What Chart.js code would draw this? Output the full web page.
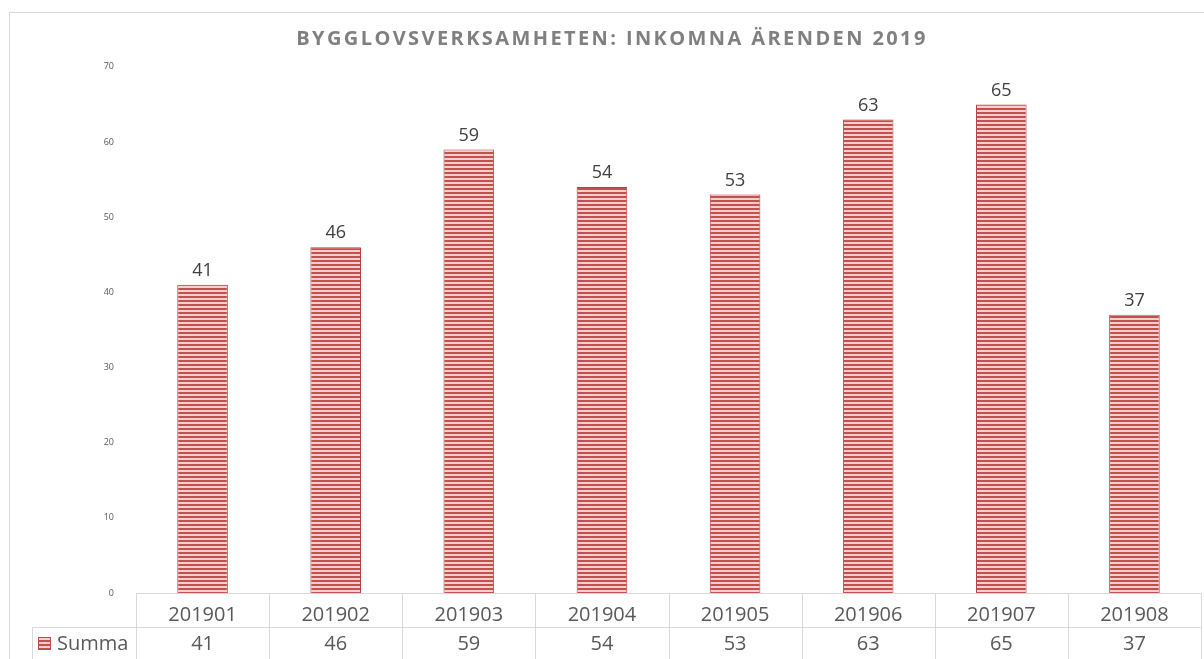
<!DOCTYPE html>
<html>
<head>
<meta charset="utf-8">
<script src="https://cdn.jsdelivr.net/npm/chart.js@4"></script>
<style>
  html, body { margin: 0; padding: 0; background: #fff; }
  #wrap { width: 1204px; height: 659px; position: relative; }
</style>
</head>
<body>
<div id="wrap"><canvas id="chart"></canvas></div>
<script>
// data
const months = ['201901', '201902', '201903', '201904', '201905', '201906', '201907', '201908'];
const summa = [41, 46, 59, 54, 53, 63, 65, 37];
const seriesName = 'Summa';
const chartTitle = 'BYGGLOVSVERKSAMHETEN: INKOMNA ÄRENDEN 2019';

const textColor = '#595959';
const lineColor = '#d9d9d9';
const fontFamily = "'Open Sans', 'Noto Sans', sans-serif";

// striped fill like the Excel pattern
function makeStripes() {
    const c = document.createElement('canvas');
    c.width = 4;
    c.height = 4;
    const g = c.getContext('2d');
    g.fillStyle = '#f3d0cf';
    g.fillRect(0, 0, 4, 4);
    g.fillStyle = '#c2504d';
    g.fillRect(0, 0, 4, 2);
    return g.createPattern(c, 'repeat');
}
const stripes = makeStripes();

// draws frame, title, data table and value labels
const tablePlugin = {
    id: 'tablePlugin',
    afterDraw(chart) {
        const ctx = chart.ctx;
        const x = chart.scales.x;
        const area = chart.chartArea;
        const rowTop = area.bottom;
        const rowMid = area.bottom + 34;
        const rowEnd = chart.height;
        const step = x.getPixelForValue(1) - x.getPixelForValue(0);

        ctx.save();
        ctx.strokeStyle = lineColor;
        ctx.lineWidth = 1;

        // outer frame
        ctx.strokeRect(9.5, 12.5, 1400, 800);

        // title with letter spacing
        ctx.fillStyle = '#808080';
        ctx.font = 'bold 20px ' + fontFamily;
        ctx.letterSpacing = '2.4px';
        ctx.textAlign = 'center';
        ctx.textBaseline = 'middle';
        ctx.fillText(chartTitle, 612, 39);
        ctx.letterSpacing = '0px';

        // table grid
        ctx.beginPath();
        ctx.moveTo(area.left, rowTop + 0.5);
        ctx.lineTo(area.right, rowTop + 0.5);
        ctx.moveTo(32, rowMid + 0.5);
        ctx.lineTo(area.right, rowMid + 0.5);
        ctx.moveTo(32.5, rowMid);
        ctx.lineTo(32.5, rowEnd);
        for (let i = 0; i <= months.length; i++) {
            const px = Math.round(x.getPixelForValue(i) - step / 2) + 0.5;
            ctx.moveTo(px, rowTop);
            ctx.lineTo(px, rowEnd);
        }
        ctx.stroke();

        // legend key + series name
        ctx.fillStyle = stripes;
        ctx.fillRect(38, rowMid + 10, 13, 13);
        ctx.strokeStyle = '#be4b48';
        ctx.strokeRect(38.5, rowMid + 10.5, 12, 12);
        ctx.fillStyle = textColor;
        ctx.font = '20px ' + fontFamily;
        ctx.textBaseline = 'middle';
        ctx.textAlign = 'left';
        ctx.fillText(seriesName, 57, rowMid + 17);

        // table values
        ctx.textAlign = 'center';
        summa.forEach((v, i) => {
            ctx.fillText(String(v), x.getPixelForValue(i), rowMid + 17);
        });

        // labels above bars
        const meta = chart.getDatasetMeta(0);
        ctx.fillStyle = '#404040';
        ctx.font = '18px ' + fontFamily;
        ctx.textBaseline = 'bottom';
        meta.data.forEach((bar, i) => {
            ctx.fillText(String(summa[i]), bar.x, bar.y - 5);
        });
        ctx.restore();
    }
};

new Chart(document.getElementById('chart'), {
    type: 'bar',
    data: {
        labels: months,
        datasets: [{
            label: seriesName,
            data: summa,
            backgroundColor: stripes,
            borderColor: '#b8423f',
            borderWidth: 1,
            categoryPercentage: 1,
            barPercentage: 0.38
        }]
    },
    options: {
        responsive: true,
        maintainAspectRatio: false,
        animation: false,
        layout: { padding: { left: 0, right: 3, top: 0, bottom: 0 } },
        plugins: {
            legend: { display: false },
            tooltip: { enabled: false },
            title: {
                // space reserved here, text drawn by plugin with letter spacing
                display: true,
                text: chartTitle,
                color: 'rgba(0,0,0,0)',
                font: { family: fontFamily, size: 19, weight: 'bold', lineHeight: 1.2 },
                padding: { top: 27, bottom: 17 }
            }
        },
        scales: {
            x: {
                grid: { display: false },
                border: { display: false },
                ticks: {
                    color: textColor,
                    font: { family: fontFamily, size: 20 },
                    padding: 2,
                    maxRotation: 0
                },
                afterFit: (scale) => { scale.height = 66; }
            },
            y: {
                min: 0,
                max: 70,
                grid: { display: false },
                border: { display: false },
                ticks: {
                    stepSize: 10,
                    color: textColor,
                    font: { family: fontFamily, size: 9 },
                    padding: 14
                },
                afterFit: (scale) => { scale.width = 136; }
            }
        }
    },
    plugins: [tablePlugin]
});
</script>
</body>
</html>
